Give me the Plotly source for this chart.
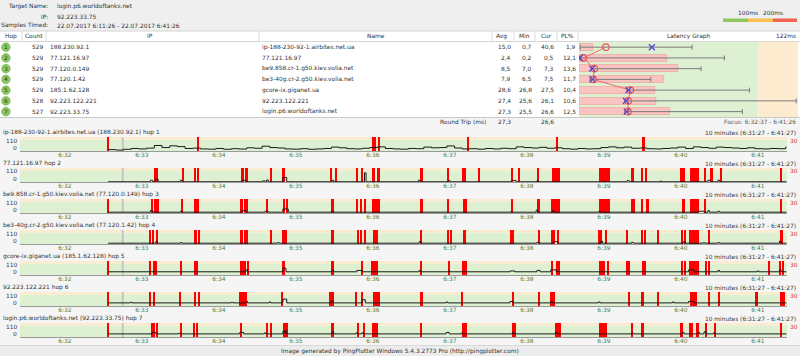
import plotly.graph_objects as go

FONT = "DejaVu Sans"
FS = 5.9
W, H = 800, 356

# ---------------- data ----------------
target_name = "login.p6.worldoftanks.net"
target_ip = "92.223.33.75"
samples_timed = "22.07.2017 6:11:26 - 22.07.2017 6:41:26"
focus_text = "Focus: 6:32:37 - 6:41:26"
window_text = "10 minutes (6:31:27 - 6:41:27)"
footer_text = "Image generated by PingPlotter Windows 5.4.3.2773 Pro (http://pingplotter.com)"
legend_labels = ["100ms", "200ms"]

hops = [1, 2, 3, 4, 5, 6, 7]
counts = [529, 529, 529, 529, 529, 528, 527]
ips = ["188.230.92.1", "77.121.16.97", "77.120.0.149", "77.120.1.42",
       "185.1.62.128", "92.223.122.221", "92.223.33.75"]
names = ["ip-188-230-92-1.airbites.net.ua", "77.121.16.97",
         "be9.858.cr-1.g50.kiev.volia.net", "be3-40g.cr-2.g50.kiev.volia.net",
         "gcore-ix.giganet.ua", "92.223.122.221", "login.p6.worldoftanks.net"]
avg_ms = [15.0, 2.4, 8.5, 7.9, 28.6, 27.4, 27.3]
min_ms = [0.7, 0.2, 7.0, 6.5, 26.8, 25.6, 25.5]
cur_ms = [40.6, 0.5, 7.3, 7.5, 27.5, 26.1, 26.6]
pl_pct = [1.9, 12.1, 13.6, 11.7, 10.4, 10.6, 12.5]
max_ms = [63, 81, 68, 40, 95, 121, 91]
rt_avg = 27.3
rt_cur = 26.6
graph_max_ms = 122
pl_scale_max = 30
green_limit_ms = 100

# time axis (minutes after 6:00)
time_range = [31.416, 41.377]
tick_minutes = [32, 33, 34, 35, 36, 37, 38, 39, 40, 41]
tick_labels = ["6:32", "6:33", "6:34", "6:35", "6:36", "6:37", "6:38", "6:39", "6:40", "6:41"]
marker_minute = 32.75
line_start = 32.56
line_end = 41.37

# hop 1 latency samples (every 0.1 min from line_start)
hop1_step = 0.1
hop1_ms = [12, 8, 15, 22, 18, 25, 48, 30, 45, 38, 22, 25, 18, 16, 22, 15, 20, 17, 28, 24,
           42, 30, 26, 18, 16, 20, 15, 18, 22, 34, 28, 20, 18, 24, 30, 36, 22, 18, 16, 22,
           20, 34, 28, 30, 44, 26, 18, 20, 16, 22, 18, 24, 20, 36, 30, 26, 32, 24, 28, 20,
           16, 22, 18, 20, 30, 36, 28, 34, 24, 26, 20, 18, 22, 26, 34, 22, 36, 30, 24, 34,
           30, 26, 22, 28, 20, 18, 22, 20, 34]

# hops 2-7: baseline latency and bumps [start_min, end_min, ms]
base_ms = [None, 2, 7, 7, 28, 27, 27]
bumps = [
    None,
    [[33.11, 33.14, 15], [33.17, 33.21, 25], [33.50, 33.52, 15], [34.30, 34.35, 15],
     [34.57, 34.60, 10], [34.62, 34.64, 18], [34.83, 34.88, 40], [35.47, 35.49, 15],
     [35.89, 35.91, 80], [36.59, 36.61, 15], [36.98, 37.00, 12], [37.80, 37.86, 12],
     [38.13, 38.15, 12], [39.30, 39.33, 12], [39.73, 39.75, 8], [40.35, 40.38, 15],
     [40.48, 40.50, 15]],
    [[33.11, 33.14, 20], [33.50, 33.52, 15], [34.30, 34.36, 20], [34.60, 34.64, 15],
     [34.83, 34.90, 35], [35.47, 35.49, 15], [37.79, 37.81, 12], [38.12, 38.14, 25],
     [38.33, 38.35, 20], [38.93, 38.95, 12], [40.23, 40.30, 15], [40.35, 40.37, 20],
     [40.48, 40.50, 15]],
    [[33.18, 33.20, 20], [33.50, 33.52, 12], [34.76, 34.78, 12], [36.60, 36.62, 20],
     [38.13, 38.15, 15], [38.34, 38.40, 20], [38.96, 38.98, 25], [39.36, 39.38, 15],
     [40.03, 40.05, 20], [40.29, 40.31, 12], [40.48, 40.50, 12], [41.28, 41.30, 25]],
    [[34.35, 34.37, 45], [34.83, 34.87, 60], [35.47, 35.49, 40], [35.79, 35.86, 40],
     [36.60, 36.62, 40], [36.98, 37.00, 35], [37.78, 37.84, 35], [38.13, 38.17, 40],
     [38.31, 38.38, 45], [40.10, 40.17, 45], [40.48, 40.50, 40], [40.99, 41.01, 35],
     [41.28, 41.30, 45]],
    [[32.85, 32.87, 32], [34.16, 34.18, 32], [34.35, 34.37, 40], [34.65, 34.67, 35],
     [34.83, 34.88, 60], [35.46, 35.48, 45], [35.86, 35.90, 55], [36.95, 36.97, 35],
     [37.78, 37.82, 40], [38.31, 38.33, 40], [38.93, 38.95, 35], [39.89, 39.91, 35],
     [40.10, 40.17, 40], [40.48, 40.50, 35]],
    [[33.13, 33.18, 40], [33.47, 33.49, 32], [34.27, 34.32, 40], [34.59, 34.61, 35],
     [34.83, 34.86, 50], [34.86, 34.88, 55], [35.47, 35.49, 45], [35.78, 35.80, 35],
     [35.85, 35.87, 35], [36.95, 36.99, 40], [37.15, 37.17, 35], [37.81, 37.83, 40],
     [38.37, 38.39, 40], [39.36, 39.38, 35], [40.02, 40.04, 40], [40.22, 40.24, 40],
     [40.30, 40.33, 45], [40.42, 40.44, 35]],
]

# packet-loss intervals per hop [start_min, end_min]
loss = [
    [[32.55, 32.57], [33.72, 33.74], [35.99, 36.01], [36.02, 36.04], [36.06, 36.09],
     [37.23, 37.25], [38.38, 38.40], [39.49, 39.53]],
    [[33.15, 33.21], [33.52, 33.54], [33.67, 33.70], [33.72, 33.74], [34.28, 34.32],
     [34.34, 34.38], [34.66, 34.68], [34.82, 34.86], [35.44, 35.46], [35.51, 35.53],
     [35.78, 35.80], [35.85, 35.87], [35.99, 36.03], [36.05, 36.09], [36.61, 36.65],
     [36.96, 36.98], [37.16, 37.21], [37.37, 37.39], [37.79, 37.82], [37.88, 37.90],
     [38.13, 38.15], [38.32, 38.43], [38.94, 39.08], [39.35, 39.39], [39.48, 39.51],
     [39.54, 39.56], [39.99, 40.05], [40.12, 40.23], [40.30, 40.32], [40.38, 40.42],
     [40.51, 40.53], [41.29, 41.31]],
    [[32.55, 32.57], [33.12, 33.14], [33.15, 33.22], [33.51, 33.53], [33.67, 33.71],
     [33.72, 33.74], [34.27, 34.31], [34.33, 34.38], [34.62, 34.64], [34.83, 34.85],
     [34.87, 34.89], [35.46, 35.49], [35.78, 35.80], [35.84, 35.86], [35.89, 35.91],
     [35.99, 36.09], [36.61, 36.65], [36.96, 36.98], [37.17, 37.22], [37.80, 37.82],
     [38.13, 38.17], [38.31, 38.43], [38.94, 39.08], [39.35, 39.40], [39.48, 39.50],
     [39.55, 39.58], [40.01, 40.05], [40.12, 40.23], [40.30, 40.32], [41.29, 41.31]],
    [[33.09, 33.11], [33.13, 33.16], [33.18, 33.20], [33.67, 33.71], [33.73, 33.75],
     [34.27, 34.31], [34.32, 34.38], [34.66, 34.68], [34.82, 34.88], [35.45, 35.50],
     [35.79, 35.81], [35.84, 35.86], [35.88, 35.90], [36.00, 36.07], [36.61, 36.63],
     [36.96, 36.98], [37.00, 37.02], [37.17, 37.21], [37.78, 37.83], [38.14, 38.16],
     [38.31, 38.36], [38.39, 38.41], [38.92, 38.97], [39.02, 39.04], [39.28, 39.31],
     [39.48, 39.50], [39.52, 39.54], [39.69, 39.71], [40.00, 40.02], [40.04, 40.06],
     [40.10, 40.23], [40.36, 40.38], [41.29, 41.32]],
    [[32.55, 32.57], [33.09, 33.11], [33.14, 33.19], [33.50, 33.52], [33.67, 33.73],
     [34.27, 34.35], [34.37, 34.39], [34.82, 34.86], [35.45, 35.50], [35.85, 35.87],
     [35.97, 36.06], [36.61, 36.63], [36.98, 37.00], [37.16, 37.22], [38.31, 38.33],
     [38.38, 38.43], [38.94, 39.01], [39.04, 39.06], [39.29, 39.34], [39.49, 39.54],
     [40.00, 40.02], [40.04, 40.06], [40.10, 40.23], [40.31, 40.33], [40.36, 40.38],
     [41.13, 41.15], [41.28, 41.30], [41.32, 41.34]],
    [[32.55, 32.57], [33.09, 33.11], [33.14, 33.17], [33.48, 33.50], [33.68, 33.70],
     [33.73, 33.75], [34.26, 34.37], [34.81, 34.83], [35.43, 35.50], [35.77, 35.79],
     [35.85, 35.87], [36.00, 36.09], [36.61, 36.65], [37.15, 37.17], [37.81, 37.83],
     [38.14, 38.16], [38.30, 38.36], [39.31, 39.33], [39.48, 39.52], [39.69, 39.71],
     [40.12, 40.21], [40.36, 40.38], [40.48, 40.50], [40.96, 41.00], [41.28, 41.35]],
    [[32.55, 32.57], [33.12, 33.14], [33.15, 33.17], [33.18, 33.20], [33.50, 33.52],
     [33.67, 33.69], [33.71, 33.73], [34.27, 34.29], [34.61, 34.63], [34.66, 34.68],
     [34.83, 34.90], [35.45, 35.50], [35.79, 35.81], [35.87, 35.89], [35.99, 36.07],
     [36.61, 36.64], [37.15, 37.22], [37.81, 37.86], [38.36, 38.44], [38.94, 39.04],
     [39.35, 39.37], [39.48, 39.52], [39.99, 40.03], [40.11, 40.16], [40.20, 40.23],
     [40.31, 40.34], [40.43, 40.45], [41.29, 41.31]],
]

# ---------------- styling ----------------
C_TEXT = "#333333"
C_GREEN_BG = "#def0d2"
C_YELLOW_BG = "#fdebcf"
C_TICK = "#4a7f3f"
C_RED = "#ff0000"

def px(x):
    return x / W

def py(y):
    return 1 - y / H

def fmt(v):
    return f"{v:.1f}".replace(".", ",")

shapes, anns = [], []

def text(x, y, s, anchor="left", color=C_TEXT, size=FS):
    anns.append(dict(xref="paper", yref="paper", x=px(x), y=py(y), text=s,
                     showarrow=False, xanchor=anchor, yanchor="middle", borderpad=0,
                     font=dict(family=FONT, size=size, color=color)))

def rect(x0, y0, x1, y1, fill, line=None):
    shapes.append(dict(type="rect", xref="paper", yref="paper", x0=px(x0), x1=px(x1),
                       y0=py(y1), y1=py(y0), fillcolor=fill, layer="below",
                       line=dict(width=0) if line is None else dict(color=line, width=1)))

def seg(x0, y0, x1, y1, color, width=1):
    shapes.append(dict(type="line", xref="paper", yref="paper", x0=px(x0), x1=px(x1),
                       y0=py(y0), y1=py(y1), line=dict(color=color, width=width), layer="below"))

# ---------------- header ----------------
rect(0, 0, 800, 30.5, "#efefef")
text(48.5, 7, "Target Name:", "right")
text(55.5, 7, target_name)
text(48.5, 16.5, "IP:", "right")
text(55.5, 16.5, target_ip)
text(48.5, 26, "Samples Timed:", "right")
text(55.5, 26, samples_timed)
text(748, 13, legend_labels[0], "center")
text(773, 13, legend_labels[1], "center")
rect(723, 18.5, 748, 22, "#8ec760")
rect(748, 18.5, 773, 22, "#f9bf4f")
rect(773, 18.5, 797, 22, "#f2644f")

# ---------------- table ----------------
TBL_TOP, HDR_BOT, TBL_BOT = 31, 41.5, 117.5
G_TOP, G_BOT = 41.8, 117.0
row_h = (G_BOT - G_TOP) / 7

def row_y(i):
    return G_TOP + (i + 0.5) * row_h

rect(0, TBL_TOP, 800, TBL_BOT, "#ffffff")
seg(0, TBL_TOP, 800, TBL_TOP, "#d4d4d4")
seg(0, HDR_BOT, 800, HDR_BOT, "#d4d4d4")
seg(0, TBL_BOT, 800, TBL_BOT, "#c8c8c8")
for xb in [22, 46, 259, 492, 514, 535, 557, 578]:
    seg(xb, TBL_TOP, xb, HDR_BOT, "#dcdcdc")

hy = 36.5
text(11, hy, "Hop", "center")
text(33.5, hy, "Count", "center")
text(150, hy, "IP", "center")
text(376, hy, "Name", "center")
text(502, hy, "Avg", "center")
text(524, hy, "Min", "center")
text(546, hy, "Cur", "center")
text(567.5, hy, "PL%", "center")
text(688, hy, "Latency Graph", "center")
text(797, hy, f"{graph_max_ms}ms", "right")

for i in range(7):
    y = row_y(i)
    shapes.append(dict(type="circle", xref="paper", yref="paper",
                       x0=px(1.6), x1=px(10.2), y0=py(y + 4.3), y1=py(y - 4.3),
                       fillcolor="#8cc862", line=dict(color="#72ad4c", width=0.6), layer="below"))
    text(5.9, y, str(hops[i]), "center", color="#22421a", size=FS)
    text(43.5, y, str(counts[i]), "right")
    text(49, y, ips[i])
    text(260.5, y, names[i])
    text(511.5, y, fmt(avg_ms[i]), "right")
    text(532.5, y, fmt(min_ms[i]), "right")
    text(554.5, y, fmt(cur_ms[i]), "right")
    text(576.5, y, fmt(pl_pct[i]), "right")

rt_y = 122
text(486.5, rt_y, "Round Trip (ms)", "right")
text(511.5, rt_y, fmt(rt_avg), "right")
text(554.5, rt_y, fmt(rt_cur), "right")
text(797, rt_y, focus_text, "right", color="#555555")

# latency graph backgrounds
shapes.append(dict(type="rect", xref="x2", yref="y domain", x0=0, x1=green_limit_ms, y0=0, y1=1,
                   fillcolor=C_GREEN_BG, line=dict(width=0), layer="below"))
shapes.append(dict(type="rect", xref="x2", yref="y domain", x0=green_limit_ms, x1=graph_max_ms,
                   y0=0, y1=1, fillcolor=C_YELLOW_BG, line=dict(width=0), layer="below"))

fig = go.Figure()
fig.add_trace(go.Bar(x=pl_pct, y=hops, orientation="h", xaxis="x", yaxis="y", width=0.66,
                     marker=dict(color="#f8c3c0", line=dict(color="#f29a96", width=0.6)),
                     showlegend=False, hoverinfo="skip"))
fig.add_trace(go.Scatter(x=avg_ms, y=hops, xaxis="x2", yaxis="y", mode="markers",
                         marker=dict(size=1, color="rgba(0,0,0,0)"),
                         error_x=dict(type="data", symmetric=False,
                                      array=[mx - a for mx, a in zip(max_ms, avg_ms)],
                                      arrayminus=[a - mn for a, mn in zip(avg_ms, min_ms)],
                                      color="#7a7a7a", thickness=1, width=2.5),
                         showlegend=False, hoverinfo="skip"))
fig.add_trace(go.Scatter(x=avg_ms, y=hops, xaxis="x2", yaxis="y", mode="lines+markers",
                         line=dict(color="#f06a6a", width=1),
                         marker=dict(symbol="circle-open", size=6.5, color="#f05050",
                                     line=dict(width=1.1)),
                         showlegend=False))
fig.add_trace(go.Scatter(x=cur_ms, y=hops, xaxis="x2", yaxis="y", mode="markers",
                         marker=dict(symbol="x-thin-open", size=6, color="#4a4ad6",
                                     line=dict(width=1.3, color="#4a4ad6")),
                         showlegend=False))

layout_axes = dict(
    xaxis=dict(domain=[px(579), px(798)], range=[0, pl_scale_max], visible=False,
               anchor="y", fixedrange=True),
    xaxis2=dict(range=[0, graph_max_ms], overlaying="x", visible=False, anchor="y",
                fixedrange=True),
    yaxis=dict(domain=[py(G_BOT), py(G_TOP)], range=[7.5, 0.5], visible=False,
               anchor="x", fixedrange=True),
)

# ---------------- strip charts ----------------
PITCH = 31
for i in range(7):
    n = 3 + i
    top = 137.0 + PITCH * i
    bot = top + 14
    xa, ya = f"x{n}", f"y{n}"
    layout_axes[f"xaxis{n}"] = dict(
        domain=[px(20), px(787)], range=time_range, anchor=ya,
        tickvals=tick_minutes, ticktext=tick_labels, showline=True, linecolor="#9a9a9a",
        linewidth=1, ticks="", ticklabelstandoff=-2, showgrid=False,
        zeroline=False, fixedrange=True,
        tickfont=dict(family=FONT, size=FS, color=C_TICK))
    layout_axes[f"yaxis{n}"] = dict(domain=[py(bot), py(top)], range=[0, graph_max_ms],
                                    visible=False, anchor=xa, fixedrange=True)

    shapes.append(dict(type="rect", xref=f"{xa} domain", yref=ya, x0=0, x1=1, y0=0,
                       y1=green_limit_ms, fillcolor=C_GREEN_BG, line=dict(width=0), layer="below"))
    shapes.append(dict(type="rect", xref=f"{xa} domain", yref=ya, x0=0, x1=1,
                       y0=green_limit_ms, y1=graph_max_ms, fillcolor=C_YELLOW_BG,
                       line=dict(width=0), layer="below"))
    shapes.append(dict(type="line", xref=xa, yref=f"{ya} domain", x0=marker_minute,
                       x1=marker_minute, y0=0, y1=1, line=dict(color="#c4c4c4", width=2),
                       layer="below"))

    # latency line
    if i == 0:
        lx = [line_start + k * hop1_step for k in range(len(hop1_ms))] + [line_end]
        ly = hop1_ms + [hop1_ms[-1]]
    else:
        b = base_ms[i]
        lx, ly = [line_start], [b]
        for s, e, v in bumps[i]:
            lx += [s, e]
            ly += [v, b]
        lx.append(line_end)
        ly.append(b)
    fig.add_trace(go.Scatter(x=lx, y=ly, xaxis=xa, yaxis=ya, mode="lines",
                             line=dict(color="#1a1a1a", width=1, shape="hv"),
                             showlegend=False, hoverinfo="skip"))
    # packet loss bars
    centers = [(s + e) / 2 for s, e in loss[i]]
    widths = [max(e - s, 0.026) for s, e in loss[i]]
    fig.add_trace(go.Bar(x=centers, y=[graph_max_ms] * len(centers), width=widths,
                         xaxis=xa, yaxis=ya, marker=dict(color=C_RED, line=dict(width=0)),
                         showlegend=False, hoverinfo="skip"))

    label = names[i] if names[i] == ips[i] else f"{names[i]} ({ips[i]})"
    text(2, top - 4.2, f"{label} hop {hops[i]}")
    text(797, top - 4.2, window_text, "right")
    text(17.5, top + 3.5, "110", "right")
    text(17.5, top + 10.5, "0", "right")
    text(789, top + 3.5, str(pl_scale_max), "left", color="#cc3333")

# ---------------- footer ----------------
rect(0, 345.5, 800, 356, "#ececec")
seg(0, 345.5, 800, 345.5, "#d8d8d8")
text(400, 351, footer_text, "center")

fig.update_layout(
    width=W, height=H, margin=dict(l=0, r=0, t=0, b=0),
    paper_bgcolor="#f5f5f5", plot_bgcolor="rgba(0,0,0,0)",
    barmode="overlay", bargap=0, showlegend=False,
    shapes=shapes, annotations=anns, font=dict(family=FONT, size=FS, color=C_TEXT),
    **layout_axes,
)

fig.write_html("out.html")
